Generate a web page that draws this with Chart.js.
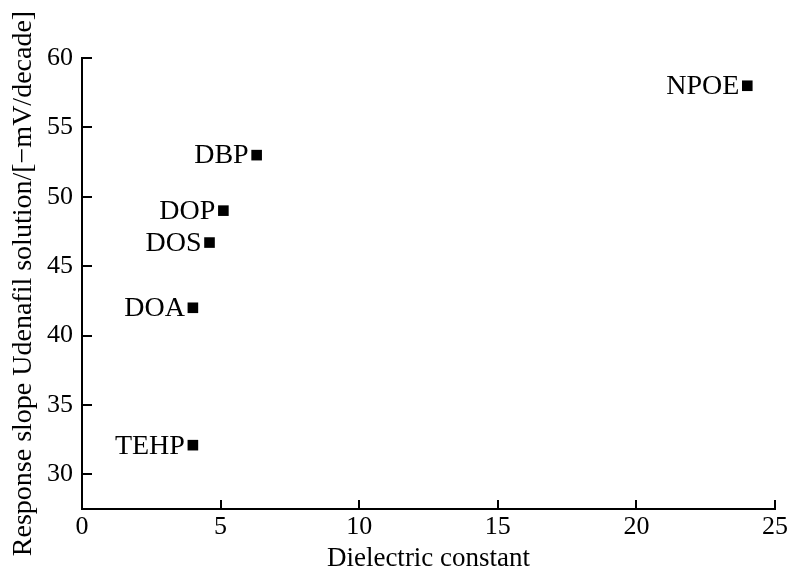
<!DOCTYPE html>
<html>
<head>
<meta charset="utf-8">
<script src="https://cdn.jsdelivr.net/npm/chart.js@4.4.1/dist/chart.umd.min.js"></script>
<style>
  html, body { margin: 0; padding: 0; background: #fff; }
  #wrap { width: 790px; height: 578px; }
</style>
</head>
<body>
<div id="wrap"><canvas id="myChart" width="790" height="578"></canvas></div>
<script>
// plasticizers and their values
const plasticizers = ["TEHP", "DOA", "DOS", "DOP", "DBP", "NPOE"];
const dielectricConstant = [4.0, 4.0, 4.6, 5.1, 6.3, 24.0];
const responseSlope = [32.1, 42.0, 46.7, 49.0, 53.0, 58.0];

const xTicks = [0, 5, 10, 15, 20, 25];
const yTicks = [30, 35, 40, 45, 50, 55, 60];

const serif = "'Liberation Serif', 'Times New Roman', serif";

const points = plasticizers.map((name, i) => ({
  x: dielectricConstant[i],
  y: responseSlope[i],
}));

//writes the plasticizer name just left of each marker
const pointLabels = {
  id: "pointLabels",
  afterDatasetsDraw(chart) {
    const ctx = chart.ctx;
    const meta = chart.getDatasetMeta(0);
    ctx.save();
    ctx.font = "28px " + serif;
    ctx.fillStyle = "#000";
    ctx.textAlign = "right";
    ctx.textBaseline = "middle";
    meta.data.forEach((pt, i) => {
      ctx.fillText(plasticizers[i], pt.x - 8, pt.y + 1);
    });
    ctx.restore();
  },
};

//tick marks pointing into the plot
const innerTicks = {
  id: "innerTicks",
  afterDraw(chart) {
    const ctx = chart.ctx;
    const { x, y } = chart.scales;
    const area = chart.chartArea;
    ctx.save();
    ctx.strokeStyle = "#000";
    ctx.lineWidth = 2;
    ctx.beginPath();
    xTicks.forEach((v) => {
      const px = Math.round(x.getPixelForValue(v));
      ctx.moveTo(px, area.bottom);
      ctx.lineTo(px, area.bottom - 9);
    });
    yTicks.forEach((v) => {
      const py = Math.round(y.getPixelForValue(v));
      ctx.moveTo(area.left, py);
      ctx.lineTo(area.left + 10, py);
    });
    ctx.stroke();
    ctx.restore();
  },
};

const config = {
  type: "scatter",
  data: {
    datasets: [
      {
        data: points,
        pointStyle: "rect",
        pointRadius: 7.5,
        pointHoverRadius: 7.5,
        backgroundColor: "#000",
        borderColor: "#000",
        borderWidth: 0,
      },
    ],
  },
  options: {
    responsive: false,
    animation: false,
    layout: { padding: { top: 58, right: 15, left: 0, bottom: 0 } },
    plugins: { legend: { display: false }, tooltip: { enabled: false } },
    scales: {
      x: {
        type: "linear",
        min: 0,
        max: 25,
        afterBuildTicks: (scale) => {
          scale.ticks = xTicks.map((v) => ({ value: v }));
        },
        afterFit: (scale) => {
          scale.height = 69;
          // let the "25" run off the edge like in the figure
          scale.paddingLeft = 0;
          scale.paddingRight = 0;
        },
        grid: { display: false, drawTicks: false },
        border: { display: true, color: "#000", width: 2 },
        ticks: {
          color: "#000",
          padding: 3,
          maxRotation: 0,
          font: { family: serif, size: 26 },
        },
        title: {
          display: true,
          text: "Dielectric constant",
          color: "#000",
          padding: { top: 0, bottom: 3 },
          font: { family: serif, size: 27 },
        },
      },
      y: {
        type: "linear",
        min: 27.5,
        max: 60,
        afterBuildTicks: (scale) => {
          scale.ticks = yTicks.map((v) => ({ value: v }));
        },
        afterFit: (scale) => {
          scale.width = 82;
        },
        grid: { display: false, drawTicks: false },
        border: { display: true, color: "#000", width: 2 },
        ticks: {
          color: "#000",
          padding: 9,
          font: { family: serif, size: 26 },
        },
        title: {
          display: true,
          text: "Response slope Udenafil solution/[\u2212mV/decade]",
          color: "#000",
          padding: { top: 7, bottom: 0 },
          font: { family: serif, size: 28 },
        },
      },
    },
  },
  plugins: [pointLabels, innerTicks],
};

let myChart = new Chart(document.getElementById("myChart"), config);
</script>
</body>
</html>
